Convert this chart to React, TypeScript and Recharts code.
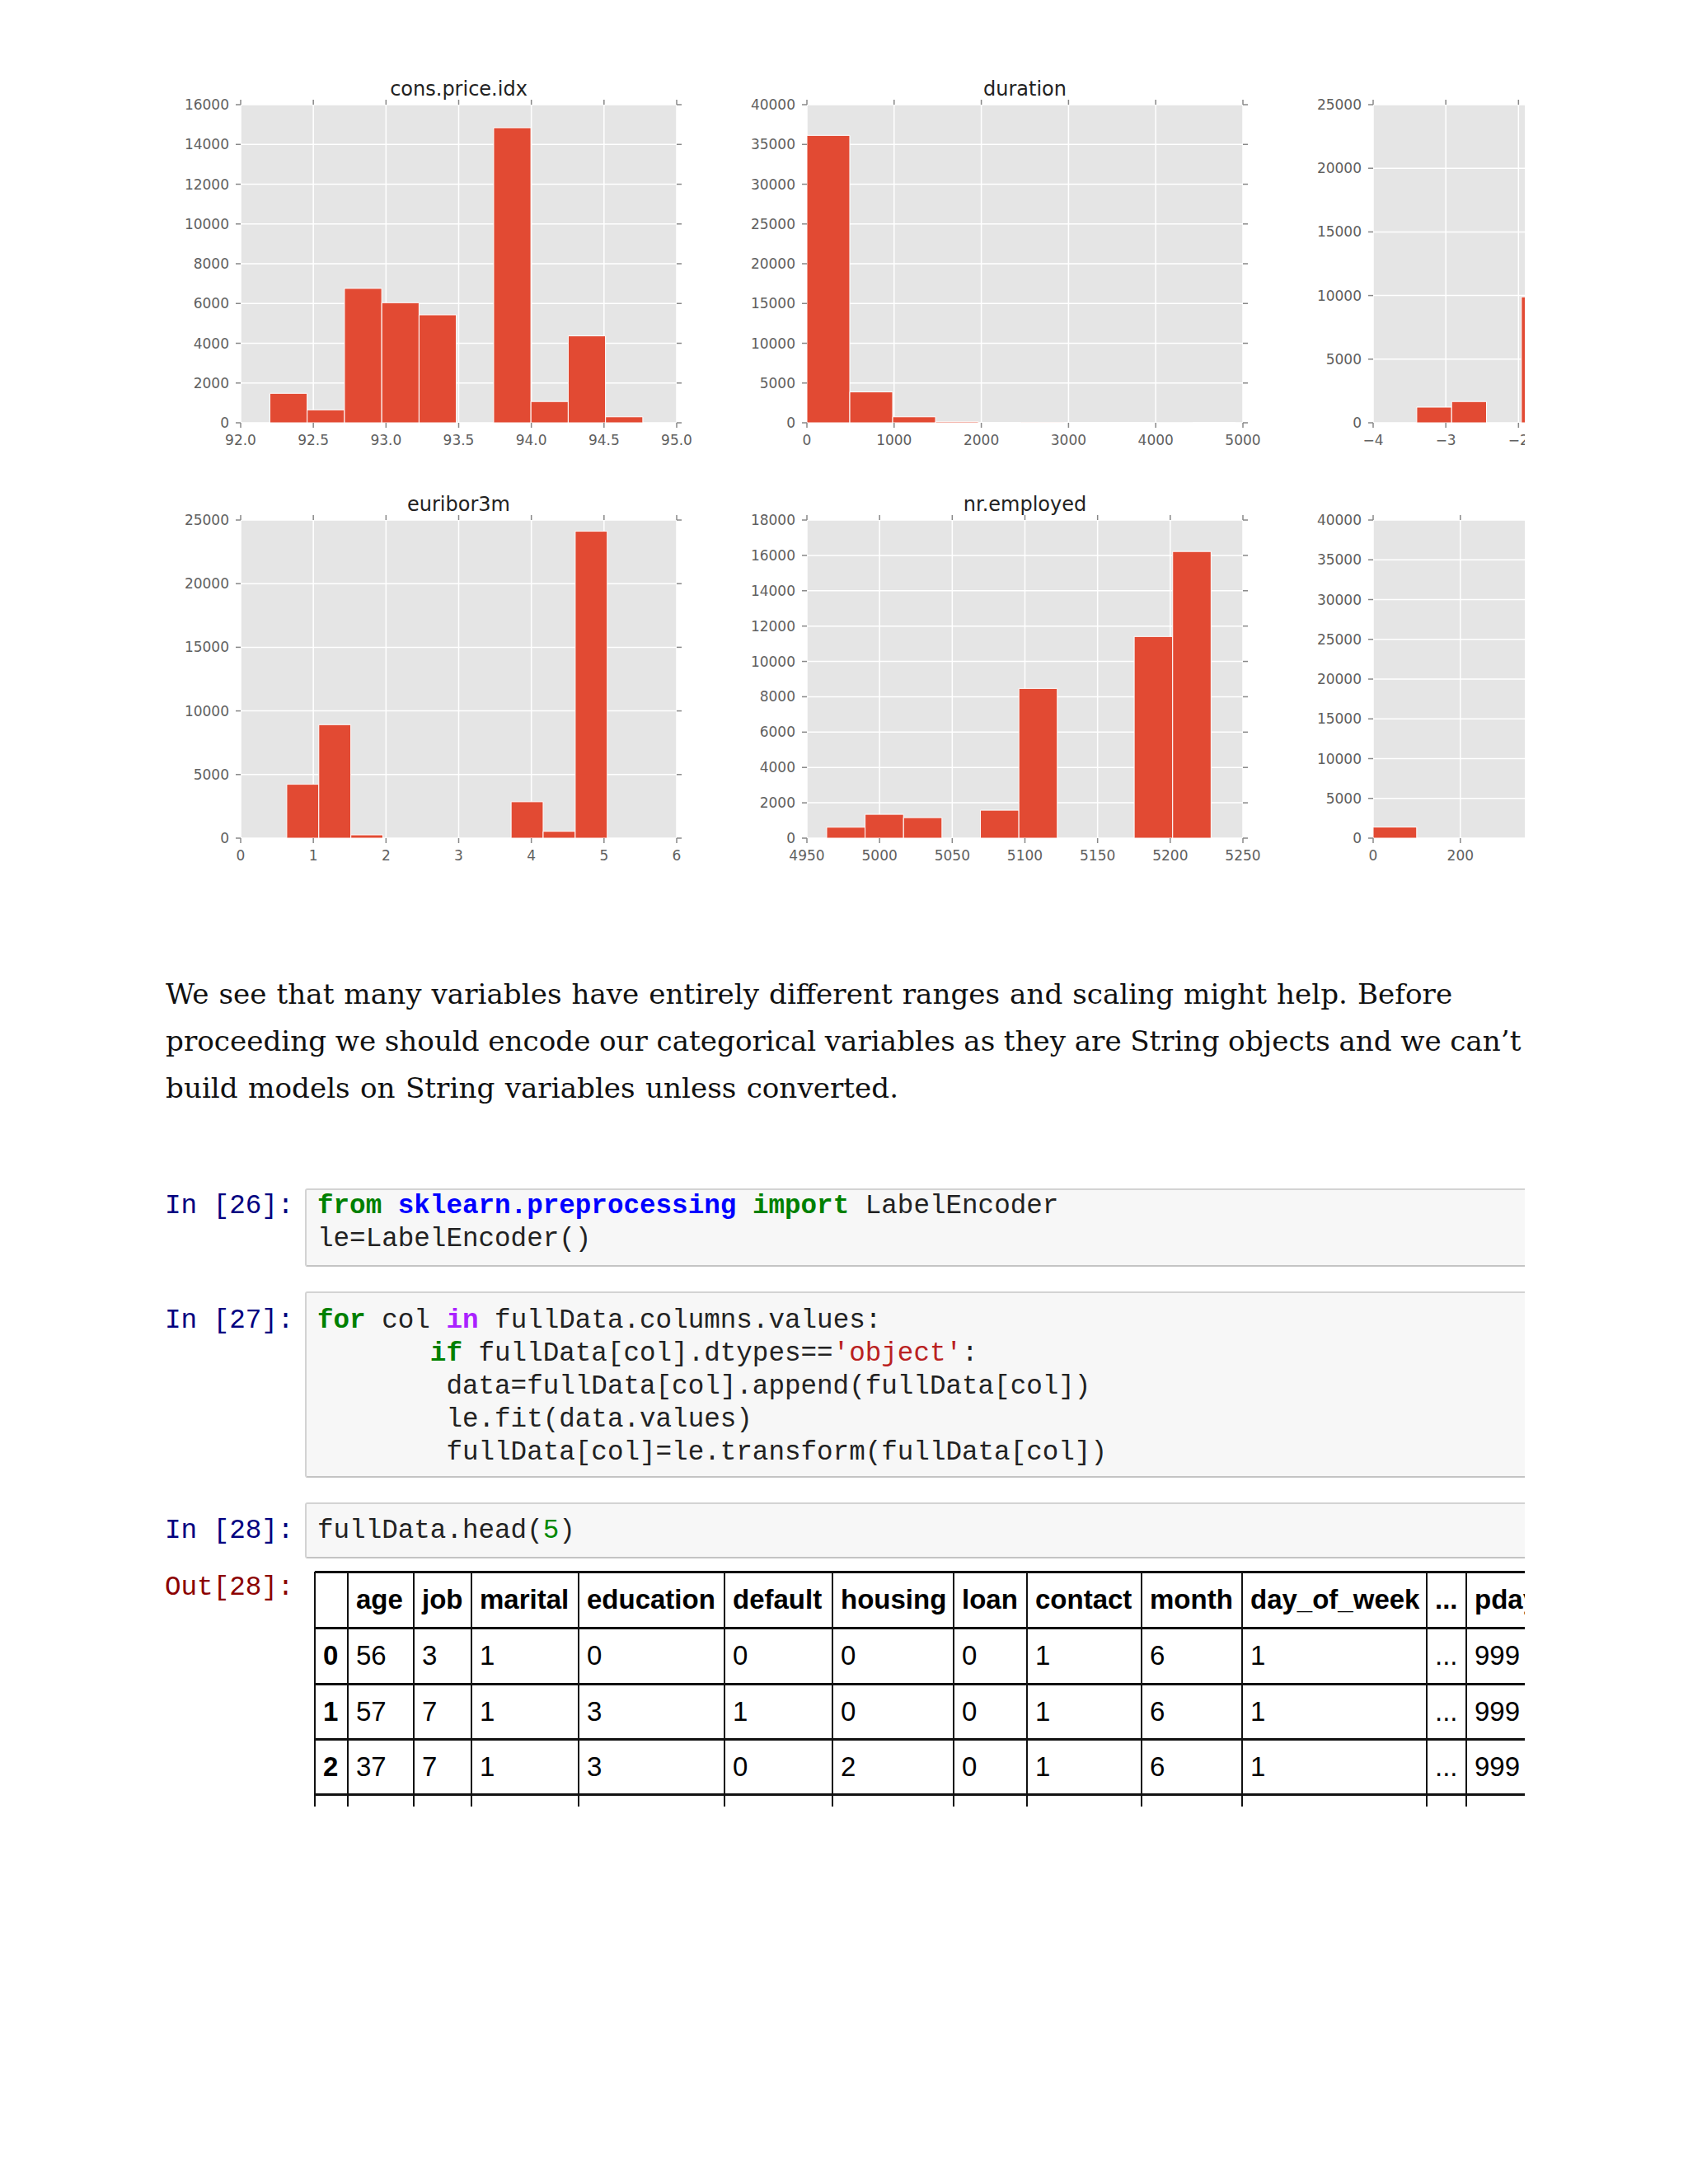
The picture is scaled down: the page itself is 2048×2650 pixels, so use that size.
import React from 'react';
import { BarChart, Bar, XAxis, YAxis, CartesianGrid } from 'recharts';

// ---- histogram data (bin edges + counts) ----
const priceEdges = [92.201, 92.4576, 92.7142, 92.9708, 93.2274, 93.484, 93.7406, 93.9972, 94.2538, 94.5104, 94.767];
const priceCounts = [1480, 650, 6760, 6040, 5430, 0, 14840, 1070, 4370, 300];
const priceXTicks = [92.0, 92.5, 93.0, 93.5, 94.0, 94.5, 95.0];
const priceYTicks = [0, 2000, 4000, 6000, 8000, 10000, 12000, 14000, 16000];

const durationEdges = [0, 491.8, 983.6, 1475.4, 1967.2, 2459, 2950.8, 3442.6, 3934.4, 4426.2, 4918];
const durationCounts = [36130, 3880, 750, 130, 50, 15, 6, 2, 0, 1];
const durationXTicks = [0, 1000, 2000, 3000, 4000, 5000];
const durationYTicks = [0, 5000, 10000, 15000, 20000, 25000, 30000, 35000, 40000];

const empEdges = [-3.4, -2.92, -2.44, -1.96, -1.48, -1.0, -0.52, -0.04, 0.44, 0.92, 1.4];
const empCounts = [1230, 1670, 0, 9900, 635, 0, 10, 0, 0, 24000];
const empXTicks = [-4, -3, -2, -1, 0, 1, 2];
const empYTicks = [0, 5000, 10000, 15000, 20000, 25000];

const euriborEdges = [0.634, 1.0751, 1.5162, 1.9573, 2.3984, 2.8395, 3.2806, 3.7217, 4.1628, 4.6039, 5.045];
const euriborCounts = [4235, 8920, 258, 0, 0, 0, 0, 2860, 537, 24120];
const euriborXTicks = [0, 1, 2, 3, 4, 5, 6];
const euriborYTicks = [0, 5000, 10000, 15000, 20000, 25000];

const employedEdges = [4963.6, 4990.05, 5016.5, 5042.95, 5069.4, 5095.85, 5122.3, 5148.75, 5175.2, 5201.65, 5228.1];
const employedCounts = [620, 1347, 1160, 0, 1580, 8470, 0, 0, 11410, 16220];
const employedXTicks = [4950, 5000, 5050, 5100, 5150, 5200, 5250];
const employedYTicks = [0, 2000, 4000, 6000, 8000, 10000, 12000, 14000, 16000, 18000];

const pdaysEdges = [0, 99.9, 199.8, 299.7, 399.6, 499.5, 599.4, 699.3, 799.2, 899.1, 999];
const pdaysCounts = [1400, 0, 0, 0, 0, 0, 0, 0, 0, 39700];
const pdaysXTicks = [0, 200, 400, 600, 800, 1000];
const pdaysYTicks = [0, 5000, 10000, 15000, 20000, 25000, 30000, 35000, 40000];

// ---- table ----
const tableCols = ['', 'age', 'job', 'marital', 'education', 'default', 'housing', 'loan', 'contact', 'month', 'day_of_week', '...', 'pdays'];
const tableRows = [
  ['0', '56', '3', '1', '0', '0', '0', '0', '1', '6', '1', '...', '999'],
  ['1', '57', '7', '1', '3', '1', '0', '0', '1', '6', '1', '...', '999'],
  ['2', '37', '7', '1', '3', '0', '2', '0', '1', '6', '1', '...', '999'],
  ['3', '40', '0', '1', '1', '0', '0', '0', '1', '6', '1', '...', '999'],
];
const colX = [382, 422, 502, 572, 702, 879, 1010, 1157, 1246, 1385, 1507, 1731, 1779, 1900];
const rowY = [1907, 1975, 2043, 2110, 2177, 2245];

const PLOT_W = 529;
const PLOT_H = 386;
const AX_L = 110;
const AX_R = 30;
const AX_T = 40;
const AX_B = 50;

const RED = '#E24A33';
const tickFont = { fill: '#606060', fontSize: 17, fontFamily: '"DejaVu Sans"' };
const tickLineStyle = { stroke: '#888', strokeWidth: 1.5 };
const minus = (v: number) => String(v).replace('-', '\u2212');

interface HistProps {
  left: number;
  top: number;
  title: string;
  edges: number[];
  counts: number[];
  xTicks: number[];
  yTicks: number[];
  fmt?: (v: number) => string;
}

const Histogram: React.FC<HistProps> = ({ left, top, title, edges, counts, xTicks, yTicks, fmt }) => {
  const data = counts.map((c, i) => ({ mid: (edges[i] + edges[i + 1]) / 2, count: c }));
  const xDomain = [xTicks[0], xTicks[xTicks.length - 1]];
  const yDomain = [yTicks[0], yTicks[yTicks.length - 1]];
  // a hair under the bin width, otherwise recharts shrinks bars to 90%
  const barSize = (PLOT_W * (edges[1] - edges[0])) / (xDomain[1] - xDomain[0]) - 0.05;
  const f = fmt || minus;
  return (
    <>
      <div
        style={{
          position: 'absolute',
          left,
          top: top - 10.5 - 23.3,
          width: PLOT_W,
          textAlign: 'center',
          fontFamily: '"DejaVu Sans"',
          fontSize: 24,
          lineHeight: '30px',
          color: '#222',
          whiteSpace: 'nowrap',
        }}
      >
        {title}
      </div>
      <div style={{ position: 'absolute', left: left - AX_L, top: top - AX_T }}>
        <BarChart
          width={AX_L + PLOT_W + AX_R}
          height={AX_T + PLOT_H + AX_B}
          data={data}
          margin={{ top: 0, right: 0, bottom: 0, left: 0 }}
          barCategoryGap={0}
          barGap={0}
        >
          <CartesianGrid fill="#E5E5E5" stroke="#fff" strokeWidth={1.5} />
          <XAxis
            type="number"
            dataKey="mid"
            domain={xDomain}
            ticks={xTicks}
            interval={0}
            allowDataOverflow
            height={AX_B}
            axisLine={false}
            tickSize={6}
            tickMargin={9}
            tickLine={tickLineStyle}
            tick={tickFont}
            tickFormatter={f}
          />
          <XAxis
            xAxisId="top"
            orientation="top"
            type="number"
            dataKey="mid"
            domain={xDomain}
            ticks={xTicks}
            interval={0}
            allowDataOverflow
            height={AX_T}
            axisLine={false}
            tickSize={6}
            tickLine={tickLineStyle}
            tickFormatter={() => ''}
          />
          <YAxis
            type="number"
            domain={yDomain}
            ticks={yTicks}
            interval={0}
            allowDataOverflow
            width={AX_L}
            axisLine={false}
            tickSize={6}
            tickMargin={8}
            tickLine={tickLineStyle}
            tick={tickFont}
          />
          <YAxis
            yAxisId="right"
            orientation="right"
            type="number"
            dataKey="count"
            domain={yDomain}
            ticks={yTicks}
            interval={0}
            allowDataOverflow
            width={AX_R}
            axisLine={false}
            tickSize={6}
            tickLine={tickLineStyle}
            tickFormatter={() => ''}
          />
          <Bar dataKey="count" fill={RED} stroke="#fff" strokeWidth={1} barSize={barSize} isAnimationActive={false} />
        </BarChart>
      </div>
    </>
  );
};

const mono = '"Liberation Mono", monospace';
const CODE_FS = 32.6;
const CODE_LH = 40;
const G = { color: '#008000', fontWeight: 'bold' as const };
const B = { color: '#0000FF', fontWeight: 'bold' as const };
const P = { color: '#AA22FF', fontWeight: 'bold' as const };
const S = { color: '#BA2121' };
const N = { color: '#008800' };

const CodeCell: React.FC<{ top: number; height: number; firstBaseline: number; prompt: string; children: React.ReactNode }> = ({
  top,
  height,
  firstBaseline,
  prompt,
  children,
}) => {
  const textTop = firstBaseline - 28.8;
  return (
    <>
      <div
        style={{
          position: 'absolute',
          left: 370,
          top,
          width: 1600,
          height,
          boxSizing: 'border-box',
          background: '#f7f7f7',
          border: '2px solid #d3d3d3',
          borderBottomColor: '#c4c4c4',
          borderRadius: 3,
        }}
      />
      <div
        style={{
          position: 'absolute',
          left: 200,
          top: textTop,
          fontFamily: mono,
          fontSize: CODE_FS,
          lineHeight: `${CODE_LH}px`,
          color: '#000080',
          whiteSpace: 'pre',
        }}
      >
        {prompt}
      </div>
      <pre
        style={{
          position: 'absolute',
          left: 385,
          top: textTop,
          margin: 0,
          fontFamily: mono,
          fontSize: CODE_FS,
          lineHeight: `${CODE_LH}px`,
          color: '#222',
        }}
      >
        {children}
      </pre>
    </>
  );
};

const paraLines = [
  'We see that many variables have entirely different ranges and scaling might help. Before',
  'proceeding we should encode our categorical variables as they are String objects and we can\u2019t',
  'build models on String variables unless converted.',
];
const paraSpacing = [1.1, -0.3, 1.5];

const App: React.FC = () => {
  return (
    <div style={{ position: 'absolute', left: 0, top: 0, width: 2048, height: 2650, background: '#fff', overflow: 'hidden' }}>
      <div style={{ position: 'absolute', left: 0, top: 0, width: 1850, height: 2650, overflow: 'hidden' }}>
        <Histogram left={292} top={127} title="cons.price.idx" edges={priceEdges} counts={priceCounts} xTicks={priceXTicks} yTicks={priceYTicks} fmt={(v) => v.toFixed(1)} />
        <Histogram left={979} top={127} title="duration" edges={durationEdges} counts={durationCounts} xTicks={durationXTicks} yTicks={durationYTicks} />
        <Histogram left={1666} top={127} title="emp.var.rate" edges={empEdges} counts={empCounts} xTicks={empXTicks} yTicks={empYTicks} />
        <Histogram left={292} top={631} title="euribor3m" edges={euriborEdges} counts={euriborCounts} xTicks={euriborXTicks} yTicks={euriborYTicks} />
        <Histogram left={979} top={631} title="nr.employed" edges={employedEdges} counts={employedCounts} xTicks={employedXTicks} yTicks={employedYTicks} />
        <Histogram left={1666} top={631} title="pdays" edges={pdaysEdges} counts={pdaysCounts} xTicks={pdaysXTicks} yTicks={pdaysYTicks} />

        {paraLines.map((line, i) => (
          <div
            key={i}
            style={{
              position: 'absolute',
              left: 201,
              top: 1178 + i * 57,
              fontFamily: '"DejaVu Serif", serif',
              fontSize: 34.2,
              wordSpacing: paraSpacing[i],
              lineHeight: '57px',
              color: '#111',
              whiteSpace: 'nowrap',
            }}
          >
            {line}
          </div>
        ))}

        <CodeCell top={1442} height={95} firstBaseline={1473} prompt="In [26]:">
          <span style={G}>from</span> <span style={B}>sklearn.preprocessing</span> <span style={G}>import</span> LabelEncoder
          {'\n'}le=LabelEncoder()
        </CodeCell>

        <CodeCell top={1567} height={226} firstBaseline={1612} prompt="In [27]:">
          <span style={G}>for</span> col <span style={P}>in</span> fullData.columns.values:
          {'\n       '}<span style={G}>if</span> fullData[col].dtypes==<span style={S}>'object'</span>:
          {'\n        '}data=fullData[col].append(fullData[col])
          {'\n        '}le.fit(data.values)
          {'\n        '}fullData[col]=le.transform(fullData[col])
        </CodeCell>

        <CodeCell top={1823} height={68} firstBaseline={1867} prompt="In [28]:">
          fullData.head(<span style={N}>5</span>)
        </CodeCell>

        <div
          style={{
            position: 'absolute',
            left: 200,
            top: 1936 - 28.8,
            fontFamily: mono,
            fontSize: CODE_FS,
            lineHeight: `${CODE_LH}px`,
            color: '#8B0000',
            whiteSpace: 'pre',
          }}
        >
          Out[28]:
        </div>

        <div style={{ position: 'absolute', left: 0, top: 0, width: 1850, height: 2192, overflow: 'hidden' }}>
          {rowY.map((y, i) => (
            <div key={'h' + i} style={{ position: 'absolute', left: colX[0], top: y - 1.5, width: 1600, height: 3, background: '#111' }} />
          ))}
          {colX.map((x, i) => (
            <div key={'v' + i} style={{ position: 'absolute', left: x - 1, top: rowY[0], width: 2, height: 400, background: '#111' }} />
          ))}
          {[tableCols, ...tableRows].map((row, r) =>
            row.map((cell, c) => (
              <div
                key={r + '-' + c}
                style={{
                  position: 'absolute',
                  left: colX[c] + 10,
                  top: rowY[r] + 14.6,
                  fontFamily: '"Liberation Sans", Arial, sans-serif',
                  fontSize: 33,
                  lineHeight: '38px',
                  fontWeight: r === 0 || c === 0 ? 'bold' : 'normal',
                  color: '#000',
                  whiteSpace: 'nowrap',
                }}
              >
                {cell}
              </div>
            ))
          )}
        </div>
      </div>
    </div>
  );
};

export default App;
